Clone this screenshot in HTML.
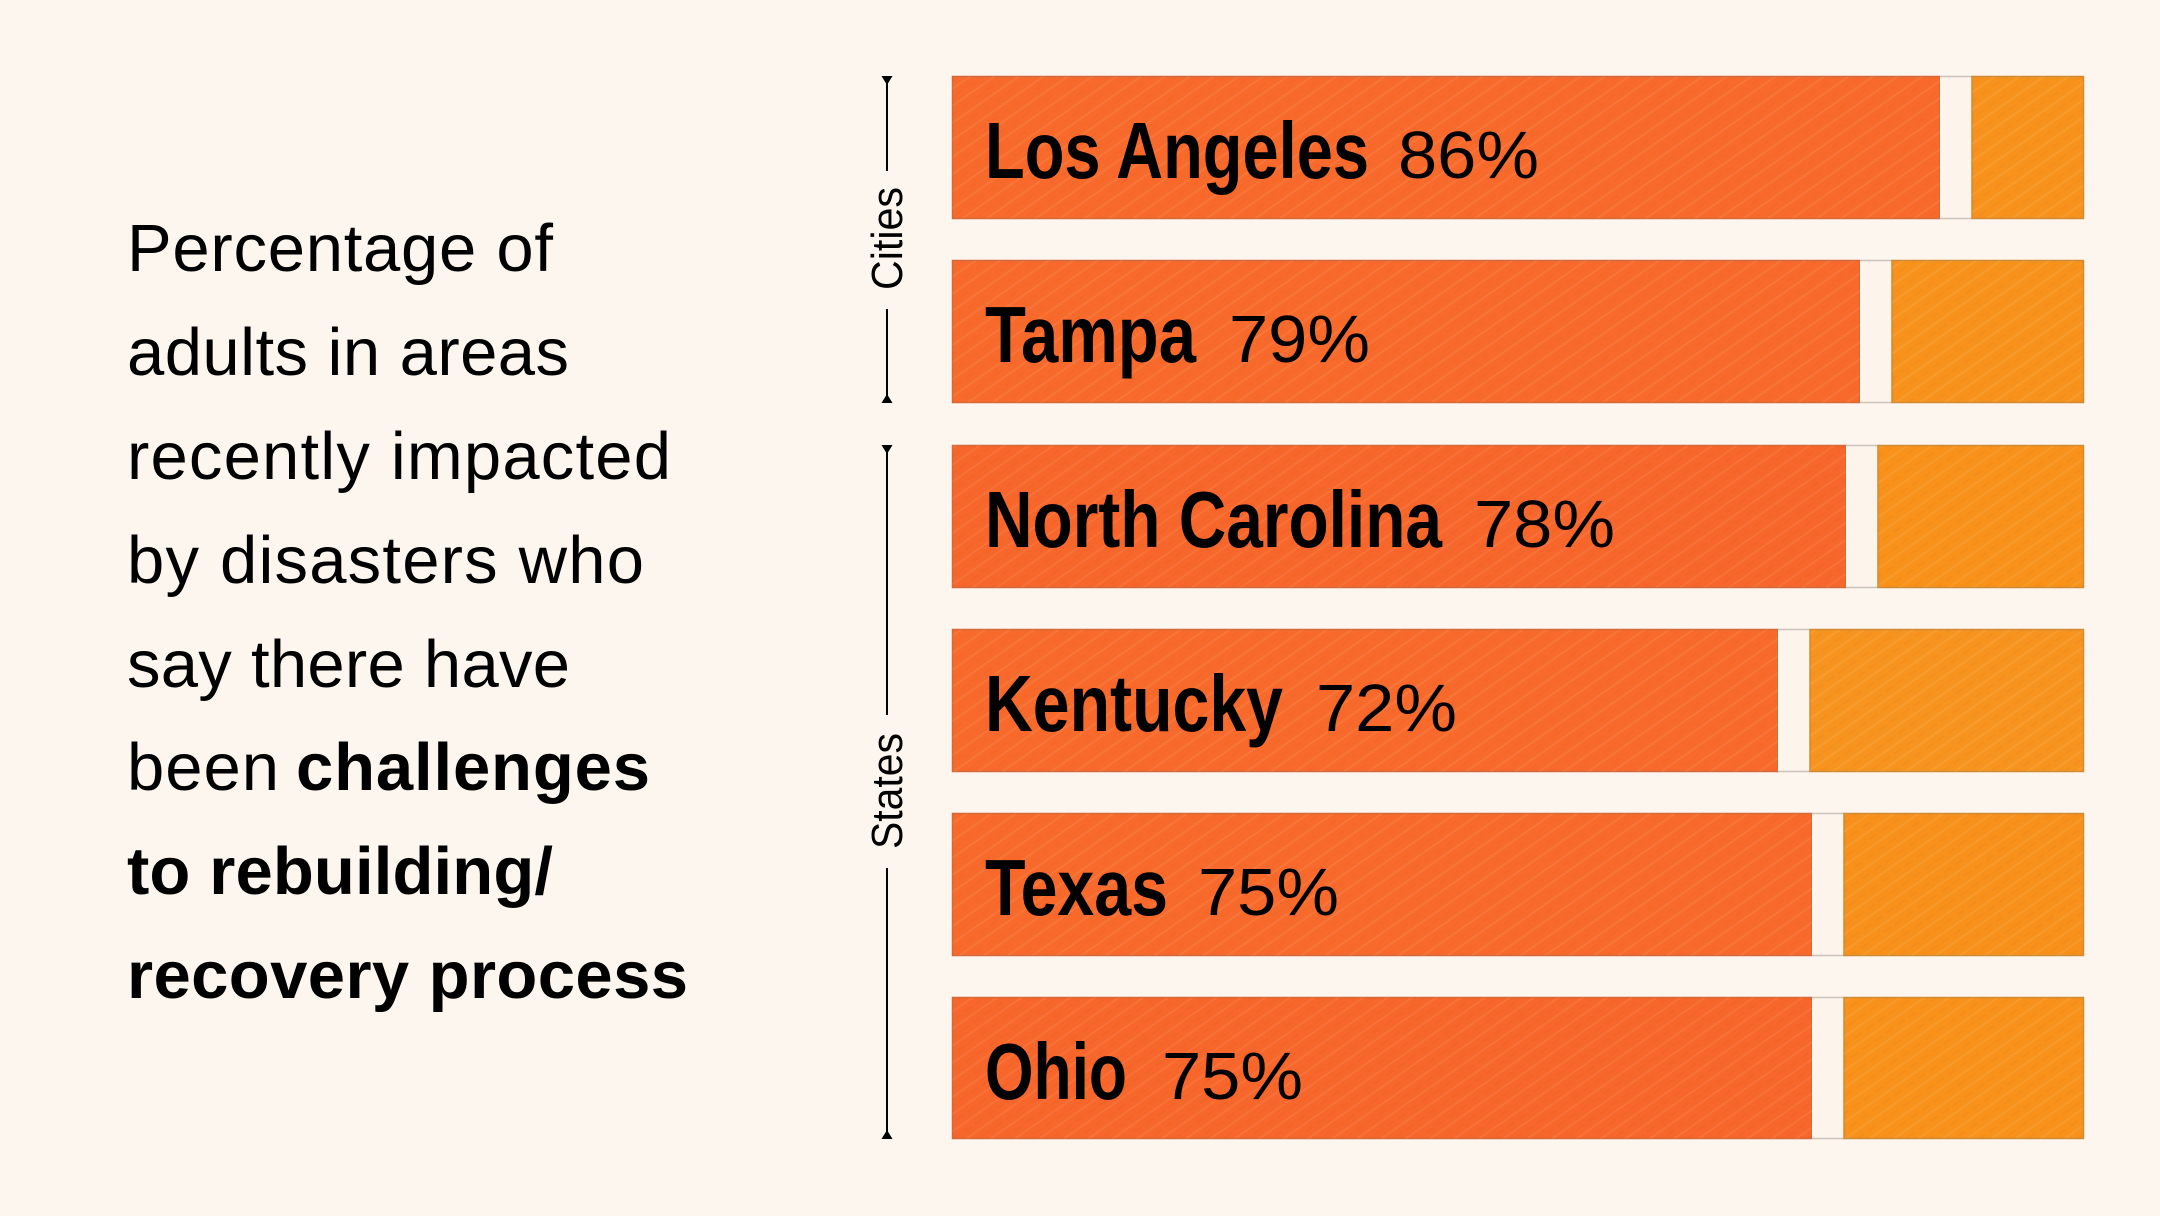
<!DOCTYPE html>
<html>
<head>
<meta charset="utf-8">
<style>
  html, body { margin:0; padding:0; background:#fdf6ef; }
  body { width:2160px; height:1216px; overflow:hidden; }
  svg { display:block; }
  .para { font-family:"Liberation Sans", Arial, sans-serif; font-size:67px; fill:#000; }
  .b { font-weight:bold; }
  .name { font-family:"Liberation Sans", Arial, sans-serif; font-weight:bold; font-size:80px; fill:#000; }
  .pct { font-family:"Liberation Sans", Arial, sans-serif; font-size:67px; fill:#000; }
  .grp { font-family:"Liberation Sans", Arial, sans-serif; font-size:44px; fill:#000; }
</style>
</head>
<body>
<svg width="2160" height="1216" viewBox="0 0 2160 1216" xmlns="http://www.w3.org/2000/svg">
  <defs>
    <pattern id="tex" width="14" height="14" patternUnits="userSpaceOnUse" patternTransform="rotate(-35)">
      <rect width="14" height="14" fill="none"/>
      <line x1="0" y1="3" x2="14" y2="3" stroke="#ffffff" stroke-opacity="0.07" stroke-width="2"/>
      <line x1="0" y1="10" x2="9" y2="10" stroke="#d04a10" stroke-opacity="0.06" stroke-width="2"/>
    </pattern>
  </defs>
  <rect width="2160" height="1216" fill="#fdf6ef"/>

  <!-- Left paragraph -->
  <text class="para" x="127" y="271" textLength="426">Percentage of</text>
  <text class="para" x="127" y="375" textLength="442">adults in areas</text>
  <text class="para" x="127" y="479" textLength="544">recently impacted</text>
  <text class="para" x="127" y="583" textLength="517">by disasters who</text>
  <text class="para" x="127" y="687" textLength="443">say there have</text>
  <text class="para" x="127" y="790" textLength="152">been</text>
  <text class="para b" x="296" y="790" textLength="354">challenges</text>
  <text class="para b" x="127" y="894" textLength="426">to rebuilding/</text>
  <text class="para b" x="127" y="998" textLength="561">recovery process</text>

  <!-- Brackets -->
  <g stroke="#000" stroke-width="2">
    <line x1="887" y1="78" x2="887" y2="171"/>
    <line x1="887" y1="309" x2="887" y2="401"/>
    <line x1="887" y1="447" x2="887" y2="715"/>
    <line x1="887" y1="868" x2="887" y2="1137"/>
  </g>
  <g fill="#000">
    <polygon points="881.5,76 892.5,76 887,85"/>
    <polygon points="881.5,403 892.5,403 887,394"/>
    <polygon points="881.5,445 892.5,445 887,454"/>
    <polygon points="881.5,1139 892.5,1139 887,1130"/>
  </g>
  <text class="grp" transform="translate(902,238.5) rotate(-90)" text-anchor="middle" textLength="103" lengthAdjust="spacingAndGlyphs">Cities</text>
  <text class="grp" transform="translate(902,791) rotate(-90)" text-anchor="middle" textLength="116" lengthAdjust="spacingAndGlyphs">States</text>

  <!-- Bars -->
  <g id="bars">
    <!-- Row 1: Los Angeles -->
    <rect x="952.5" y="76.5" width="987.5" height="142" fill="#f86a2b" stroke="#d3683a" stroke-width="1.5"/>
    <rect x="952.5" y="76.5" width="987.5" height="142" fill="url(#tex)"/>
    <rect x="1940" y="76.5" width="32" height="142" fill="#fdf5ec"/>
    <line x1="1940" y1="76.5" x2="1972" y2="76.5" stroke="#cbc3ba" stroke-width="1.5"/>
    <line x1="1940" y1="218.5" x2="1972" y2="218.5" stroke="#cbc3ba" stroke-width="1.5"/>
    <rect x="1972" y="76.5" width="111.5" height="142" fill="#f7931d" stroke="#cf8a33" stroke-width="1.5"/>
    <rect x="1972" y="76.5" width="111.5" height="142" fill="url(#tex)"/>

    <!-- Row 2: Tampa -->
    <rect x="952.5" y="260.5" width="907.5" height="142" fill="#f86a2b" stroke="#d3683a" stroke-width="1.5"/>
    <rect x="952.5" y="260.5" width="907.5" height="142" fill="url(#tex)"/>
    <rect x="1860" y="260.5" width="32" height="142" fill="#fdf5ec"/>
    <line x1="1860" y1="260.5" x2="1892" y2="260.5" stroke="#cbc3ba" stroke-width="1.5"/>
    <line x1="1860" y1="402.5" x2="1892" y2="402.5" stroke="#cbc3ba" stroke-width="1.5"/>
    <rect x="1892" y="260.5" width="191.5" height="142" fill="#f7931d" stroke="#cf8a33" stroke-width="1.5"/>
    <rect x="1892" y="260.5" width="191.5" height="142" fill="url(#tex)"/>

    <!-- Row 3: North Carolina -->
    <rect x="952.5" y="445.5" width="893.5" height="142" fill="#f7662a" stroke="#d3683a" stroke-width="1.5"/>
    <rect x="952.5" y="445.5" width="893.5" height="142" fill="url(#tex)"/>
    <rect x="1846" y="445.5" width="32" height="142" fill="#fdf5ec"/>
    <line x1="1846" y1="445.5" x2="1878" y2="445.5" stroke="#cbc3ba" stroke-width="1.5"/>
    <line x1="1846" y1="587.5" x2="1878" y2="587.5" stroke="#cbc3ba" stroke-width="1.5"/>
    <rect x="1878" y="445.5" width="205.5" height="142" fill="#f8921b" stroke="#cf8a33" stroke-width="1.5"/>
    <rect x="1878" y="445.5" width="205.5" height="142" fill="url(#tex)"/>

    <!-- Row 4: Kentucky -->
    <rect x="952.5" y="629.5" width="825.5" height="142" fill="#f86a2b" stroke="#d3683a" stroke-width="1.5"/>
    <rect x="952.5" y="629.5" width="825.5" height="142" fill="url(#tex)"/>
    <rect x="1778" y="629.5" width="32" height="142" fill="#fdf5ec"/>
    <line x1="1778" y1="629.5" x2="1810" y2="629.5" stroke="#cbc3ba" stroke-width="1.5"/>
    <line x1="1778" y1="771.5" x2="1810" y2="771.5" stroke="#cbc3ba" stroke-width="1.5"/>
    <rect x="1810" y="629.5" width="273.5" height="142" fill="#f7941f" stroke="#cf8a33" stroke-width="1.5"/>
    <rect x="1810" y="629.5" width="273.5" height="142" fill="url(#tex)"/>

    <!-- Row 5: Texas -->
    <rect x="952.5" y="813.5" width="859.5" height="142" fill="#f86a2b" stroke="#d3683a" stroke-width="1.5"/>
    <rect x="952.5" y="813.5" width="859.5" height="142" fill="url(#tex)"/>
    <rect x="1812" y="813.5" width="32" height="142" fill="#fdf5ec"/>
    <line x1="1812" y1="813.5" x2="1844" y2="813.5" stroke="#cbc3ba" stroke-width="1.5"/>
    <line x1="1812" y1="955.5" x2="1844" y2="955.5" stroke="#cbc3ba" stroke-width="1.5"/>
    <rect x="1844" y="813.5" width="239.5" height="142" fill="#f7911c" stroke="#cf8a33" stroke-width="1.5"/>
    <rect x="1844" y="813.5" width="239.5" height="142" fill="url(#tex)"/>

    <!-- Row 6: Ohio -->
    <rect x="952.5" y="997.5" width="859.5" height="141" fill="#f7662a" stroke="#d3683a" stroke-width="1.5"/>
    <rect x="952.5" y="997.5" width="859.5" height="141" fill="url(#tex)"/>
    <rect x="1812" y="997.5" width="32" height="141" fill="#fdf5ec"/>
    <line x1="1812" y1="997.5" x2="1844" y2="997.5" stroke="#cbc3ba" stroke-width="1.5"/>
    <line x1="1812" y1="1138.5" x2="1844" y2="1138.5" stroke="#cbc3ba" stroke-width="1.5"/>
    <rect x="1844" y="997.5" width="239.5" height="141" fill="#f8921b" stroke="#cf8a33" stroke-width="1.5"/>
    <rect x="1844" y="997.5" width="239.5" height="141" fill="url(#tex)"/>
  </g>

  <!-- Labels -->
  <text class="name" x="985" y="178" textLength="384" lengthAdjust="spacingAndGlyphs">Los Angeles</text>
  <text class="pct" x="1398" y="178" textLength="141" lengthAdjust="spacingAndGlyphs">86%</text>

  <text class="name" x="985" y="362" textLength="211" lengthAdjust="spacingAndGlyphs">Tampa</text>
  <text class="pct" x="1229" y="362" textLength="141" lengthAdjust="spacingAndGlyphs">79%</text>

  <text class="name" x="985" y="547" textLength="457" lengthAdjust="spacingAndGlyphs">North Carolina</text>
  <text class="pct" x="1474" y="547" textLength="141" lengthAdjust="spacingAndGlyphs">78%</text>

  <text class="name" x="985" y="731" textLength="298" lengthAdjust="spacingAndGlyphs">Kentucky</text>
  <text class="pct" x="1316" y="731" textLength="141" lengthAdjust="spacingAndGlyphs">72%</text>

  <text class="name" x="985" y="915" textLength="183" lengthAdjust="spacingAndGlyphs">Texas</text>
  <text class="pct" x="1198" y="915" textLength="141" lengthAdjust="spacingAndGlyphs">75%</text>

  <text class="name" x="985" y="1099" textLength="142" lengthAdjust="spacingAndGlyphs">Ohio</text>
  <text class="pct" x="1162" y="1099" textLength="141" lengthAdjust="spacingAndGlyphs">75%</text>
</svg>
</body>
</html>
